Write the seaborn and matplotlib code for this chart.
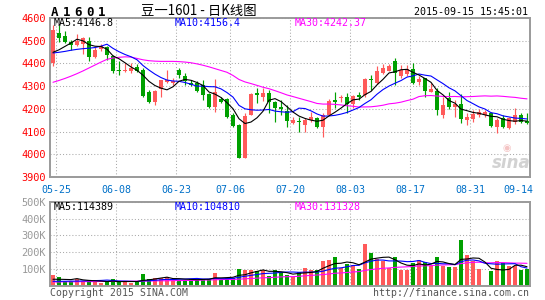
import numpy as np
import pandas as pd
import matplotlib
matplotlib.use("Agg")
import matplotlib.pyplot as plt
import seaborn as sns

sns.set_style("white")
plt.rcParams['font.family'] = ['DejaVu Sans Mono', 'DejaVu Sans']

# ---------------- data ----------------
# trading days shown (05-22 .. 09-15, exchange holidays removed)
holidays = ["2015-06-22", "2015-09-03", "2015-09-04"]
dates = pd.bdate_range("2015-05-22", "2015-09-15")
dates = dates[~dates.isin(pd.to_datetime(holidays))]
date_labels = [d.strftime("%m-%d") for d in dates]

tick_labels = ["05-25", "06-08", "06-23", "07-06", "07-20", "08-03", "08-17", "08-31", "09-14"]

open_ = [4401, 4534, 4519, 4493, 4479, 4485, 4497, 4428, 4465, 4471,
         4431, 4372, 4365, 4368, 4384, 4372, 4274, 4229, 4288, 4318,
         4313, 4372, 4343, 4313, 4313, 4306, 4265, 4210, 4243, 4243,
         4174, 4129, 3985, 4174, 4269, 4250, 4269, 4228, 4207, 4190,
         4137, 4144, 4129, 4151, 4159, 4119, 4174, 4240, 4247, 4254,
         4221, 4262, 4259, 4331, 4313, 4357, 4368, 4409, 4345, 4355,
         4376, 4318, 4335, 4276, 4279, 4174, 4247, 4210, 4221, 4150,
         4156, 4171, 4174, 4181, 4122, 4159, 4115, 4144, 4174, 4147]
high = [4568, 4571, 4541, 4504, 4529, 4515, 4515, 4471, 4485, 4475,
        4438, 4412, 4401, 4401, 4397, 4379, 4284, 4284, 4328, 4372,
        4335, 4379, 4357, 4328, 4324, 4328, 4269, 4331, 4254, 4247,
        4181, 4132, 4181, 4269, 4291, 4291, 4284, 4235, 4240, 4215,
        4166, 4166, 4159, 4188, 4166, 4181, 4243, 4276, 4262, 4269,
        4262, 4274, 4335, 4350, 4387, 4397, 4397, 4426, 4394, 4395,
        4401, 4343, 4338, 4313, 4291, 4254, 4274, 4240, 4265, 4181,
        4196, 4200, 4196, 4185, 4159, 4174, 4166, 4203, 4181, 4181]
low = [4390, 4494, 4490, 4460, 4475, 4441, 4412, 4424, 4453, 4416,
       4357, 4347, 4362, 4357, 4362, 4254, 4224, 4218, 4250, 4313,
       4306, 4335, 4306, 4299, 4276, 4240, 4203, 4188, 4225, 4159,
       4118, 3985, 3985, 4171, 4225, 4235, 4181, 4144, 4175, 4120,
       4132, 4100, 4100, 4144, 4115, 4074, 4171, 4203, 4232, 4181,
       4203, 4240, 4254, 4284, 4309, 4353, 4365, 4306, 4335, 4345,
       4309, 4306, 4254, 4274, 4174, 4159, 4200, 4162, 4137, 4129,
       4144, 4166, 4166, 4122, 4093, 4115, 4112, 4132, 4137, 4132]
close = [4548, 4512, 4494, 4482, 4497, 4512, 4428, 4460, 4475, 4438,
         4365, 4365, 4372, 4382, 4365, 4257, 4229, 4280, 4325, 4328,
         4324, 4350, 4321, 4306, 4279, 4259, 4206, 4274, 4232, 4166,
         4125, 3985, 4169, 4265, 4259, 4269, 4229, 4203, 4200, 4147,
         4151, 4140, 4151, 4163, 4122, 4174, 4235, 4232, 4254, 4221,
         4257, 4250, 4331, 4325, 4365, 4379, 4390, 4357, 4370, 4374,
         4313, 4331, 4279, 4287, 4196, 4215, 4206, 4221, 4156, 4162,
         4176, 4188, 4185, 4126, 4151, 4121, 4159, 4171, 4141, 4138]
# volume in thousands (lots)
volume_k = [65, 52, 32, 30, 40, 28, 36, 22, 20, 26,
            40, 22, 25, 20, 26, 72, 40, 50, 48, 52,
            30, 38, 36, 40, 42, 40, 42, 79, 38, 50,
            50, 101, 95, 95, 91, 95, 60, 94, 82, 65,
            51, 82, 108, 96, 93, 147, 157, 173, 105, 129,
            125, 98, 252, 193, 158, 149, 105, 174, 96, 94,
            135, 157, 141, 121, 174, 120, 110, 114, 272, 185,
            150, 102, 0, 90, 148, 135, 120, 120, 95, 102]

# moving-average values for days whose window starts before the chart
ma5_head = [4449, 4460, 4475, 4490]
ma10_head = [4446, 4449, 4453, 4458, 4462, 4465, 4467, 4470, 4476]
ma30_head = [4317, 4325, 4334, 4344, 4355, 4367, 4380, 4393, 4406, 4418,
             4424, 4427, 4429, 4428, 4422, 4416, 4412, 4410, 4409, 4409,
             4409, 4408, 4406, 4403, 4398, 4392, 4385, 4377, 4369]
vma5_head = [40, 40, 39, 38]
vma10_head = [28, 28, 28, 29, 29, 30, 31, 32, 33]
vma30_head = [24, 24, 25, 25, 25, 26, 26, 26, 27, 27,
              27, 28, 28, 28, 29, 29, 30, 30, 31, 31,
              32, 32, 33, 33, 34, 35, 36, 37, 38]

legend_main = ["MA5:4146.8", "MA10:4156.4", "MA30:4242.37"]
legend_vol = ["MA5:114389", "MA10:104810", "MA30:131328"]
title_code = "A1601"
title_cn = "豆一1601 - 日K线图"
timestamp = "2015-09-15 15:45:01"

# ---------------- derived ----------------
n = len(close)
idx = np.arange(n)
o = np.array(open_, float); c = np.array(close, float)
h = np.array(high, float); l = np.array(low, float)
vol = np.array(volume_k, float) * 1000
up = c >= o

def moving(series, win, head):
    m = pd.Series(series).rolling(win).mean().values
    m[:len(head)] = head
    return m

ma5 = moving(c, 5, ma5_head)
ma10 = moving(c, 10, ma10_head)
ma30 = moving(c, 30, ma30_head)
vma5 = moving(vol, 5, np.array(vma5_head) * 1000)
vma10 = moving(vol, 10, np.array(vma10_head) * 1000)
vma30 = moving(vol, 30, np.array(vma30_head) * 1000)

tick_pos = [date_labels.index(t) - 0.5 for t in tick_labels]

# ---------------- style ----------------
RED = "#ff5a5a"
GREEN = "#00a000"
GRID = "#aaaaaa"
SPINE = "#9a9a9a"

W, H = 545, 300
fig = plt.figure(figsize=(W / 100, H / 100), dpi=100)
fig.patch.set_facecolor("white")

def fx(px):
    return px / W

def fy(py):
    return 1 - py / H

ax = fig.add_axes([fx(50), fy(177), (530 - 50) / W, (177 - 18) / H])
axv = fig.add_axes([fx(50), fy(286), (530 - 50) / W, (286 - 201.7) / H])

# ---------- candles ----------
cols = np.where(up, RED, GREEN)
ax.vlines(idx, l, h, colors=cols, lw=0.85, zorder=2)
body_lo = np.minimum(o, c)
body_h = np.maximum(np.abs(c - o), 4.5)
ax.bar(idx, body_h, bottom=body_lo, width=0.82, color=cols, lw=0, zorder=3)

for m, colr in [(ma30, "#ff00ff"), (ma10, "#0000ff"), (ma5, "#000000")]:
    sns.lineplot(x=idx, y=m, color=colr, linewidth=0.8, ax=ax, zorder=4)

ax.set_xlim(-0.5, n - 0.5)
ax.set_ylim(3900, 4600)
ax.set_yticks(np.arange(3900, 4601, 100))
ax.set_yticklabels([str(v) for v in range(3900, 4601, 100)], color="#ff0000", fontsize=7.4)
ax.set_xticks(tick_pos)
ax.set_xticklabels(tick_labels, color="#0070c8", fontsize=7.2)
ax.tick_params(axis="both", length=0)
ax.tick_params(axis="y", pad=3)
ax.tick_params(axis="x", pad=6)
ax.yaxis.grid(True, color=GRID, lw=0.75, linestyle=(0, (1, 2)))
ax.xaxis.grid(False)
for p in tick_pos[:-1]:
    ax.axvline(p, color=GRID, lw=0.75, linestyle=(0, (1, 2)), zorder=0)
ax.set_xlabel(""); ax.set_ylabel("")
for s in ax.spines.values():
    s.set_color(SPINE); s.set_linewidth(1.4)

# ---------- volume ----------
vdf = pd.DataFrame({"idx": idx, "vol": vol, "dir": np.where(up, "up", "down")})
sns.barplot(data=vdf, x="idx", y="vol", hue="dir", palette={"up": RED, "down": GREEN},
            native_scale=True, dodge=False, width=0.76, errorbar=None, legend=False,
            saturation=1, linewidth=0, ax=axv, zorder=2)
for m, colr in [(vma30, "#ff00ff"), (vma10, "#0000ff"), (vma5, "#000000")]:
    sns.lineplot(x=idx, y=m, color=colr, linewidth=0.8, ax=axv, zorder=4)
axv.set_xlim(-0.5, n - 0.5)
axv.set_ylim(0, 500000)
axv.set_yticks(np.arange(0, 500001, 100000))
axv.set_yticklabels([""] + [f"{v}K" for v in range(100, 501, 100)], color="#999999", fontsize=7.4)
axv.set_xticks([])
axv.tick_params(axis="both", length=0)
axv.tick_params(axis="y", pad=3)
axv.yaxis.grid(True, color=GRID, lw=0.75, linestyle=(0, (1, 2)))
axv.xaxis.grid(False)
for p in tick_pos[:-1]:
    axv.axvline(p, color=GRID, lw=0.75, linestyle=(0, (1, 2)), zorder=0)
axv.set_xlabel(""); axv.set_ylabel("")
for s in axv.spines.values():
    s.set_color(SPINE); s.set_linewidth(1.4)

# ---------- texts ----------
for i, ch in enumerate(title_code):
    fig.text(fx(54.5 + i * 11.8), fy(12), ch, ha="center", va="center",
             fontsize=9, fontweight="bold", color="black")
fig.text(fx(141), fy(11.5), title_cn, ha="left", va="center", fontsize=9.6,
         family=["Noto Sans CJK SC", "DejaVu Sans"], color="black")
fig.text(fx(528), fy(12), timestamp, ha="right", va="center", fontsize=7.2, color="black")

main_leg_x = [54, 174.5, 294.5]
main_cols = ["#000000", "#0000ff", "#ff00ff"]
for t, x0, colr in zip(legend_main, main_leg_x, main_cols):
    fig.text(fx(x0), fy(23.5), t, ha="left", va="center", fontsize=7.2, color=colr)
for t, x0, colr in zip(legend_vol, main_leg_x, main_cols):
    fig.text(fx(x0), fy(206.5), t, ha="left", va="center", fontsize=7.2, color=colr)

fig.text(fx(50), fy(292.5), "Copyright 2015 SINA.COM", ha="left", va="center",
         fontsize=7.1, color="#555555")
fig.text(fx(529), fy(292.5), "http://finance.sina.com.cn", ha="right", va="center",
         fontsize=7.1, color="#555555")
fig.text(fx(511), fy(163), "sina", ha="center", va="center", fontsize=12,
         fontstyle="italic", fontweight="bold", color="#d2d2d2", family="DejaVu Sans")
fig.text(fx(507), fy(148), "◉", ha="center", va="center", fontsize=7,
         color="#f4c4c4", family="DejaVu Sans")

fig.savefig("out.png", dpi=100, facecolor="white")
